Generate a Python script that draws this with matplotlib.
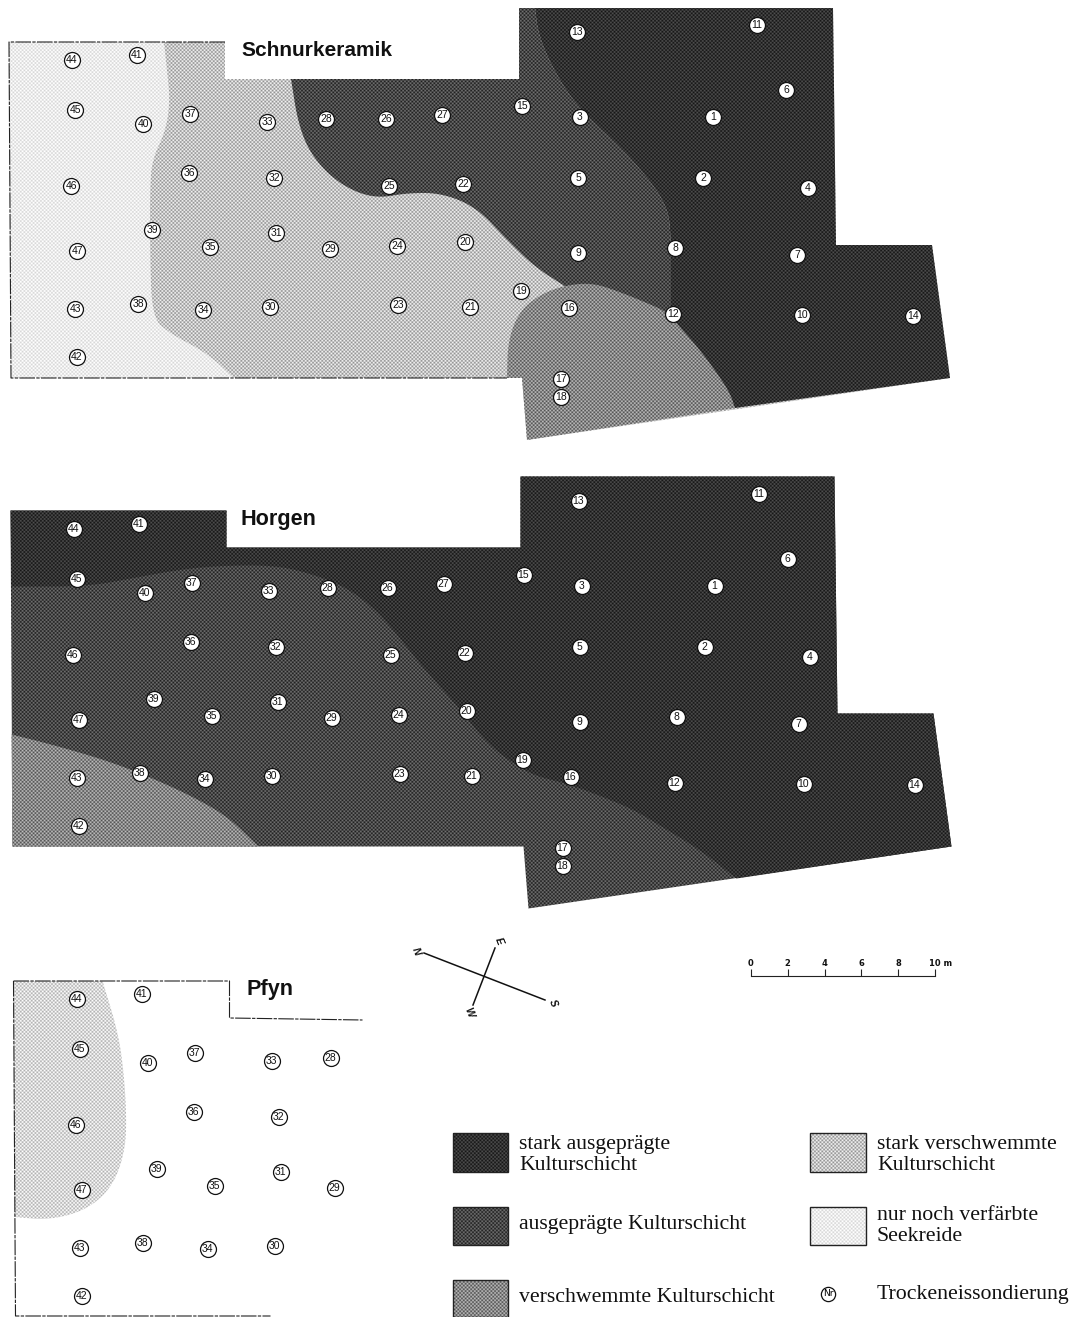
import numpy as np
import matplotlib
matplotlib.use("Agg")
import matplotlib.pyplot as plt
from matplotlib.patches import Polygon

W, H = 1075, 1317

# sondes, read in the Schnurkeramik panel (pixels of the page)
sonde_ids = list(range(1, 48))
sonde_x = [713, 703, 580, 808, 578, 786, 797, 675, 578, 802, 757, 673, 577, 913, 522, 569,
           561, 561, 521, 465, 470, 463, 398, 397, 389, 386, 442, 326, 330, 270, 276, 274,
           267, 203, 210, 189, 190, 138, 152, 143, 137, 77, 75, 72, 75, 71, 77]
sonde_y = [117, 178, 117, 188, 178, 90, 255, 248, 253, 315, 25, 314, 32, 316, 106, 308,
           379, 397, 291, 242, 307, 184, 305, 246, 186, 119, 115, 119, 249, 307, 233, 178,
           122, 310, 247, 173, 114, 304, 230, 124, 55, 357, 309, 60, 110, 186, 251]
pfyn_ids = [28, 29, 30, 31, 32, 33, 34, 35, 36, 37, 38, 39, 40, 41, 42, 43, 44, 45, 46, 47]

# site outline
site = [(9, 42), (225, 42), (225, 79), (519, 79), (519, 8), (833, 8), (836, 245), (932, 245),
        (950, 378), (527, 440), (522, 378), (11, 378)]
pfyn_edge_top = [(9, 42), (225, 42), (225, 79), (358, 81)]
pfyn_edge_left = [(9, 42), (11, 377), (266, 377)]
schnur_edge = [(225, 42), (9, 42), (11, 378), (507, 378)]

# zone boundaries, Schnurkeramik
sk_light = [(164, 42), (167, 70), (170, 100), (166, 130), (152, 160), (150, 190), (150, 250),
            (152, 317), (169, 333), (207, 353), (234, 378)]
sk_mid = [(291, 79), (298, 123), (310, 153), (331, 177), (355, 192), (379, 198), (407, 193),
          (441, 193), (476, 207), (507, 240), (535, 267), (563, 285)]
sk_dark_edge = [(535, 8), (538, 33), (550, 63), (570, 97), (593, 122), (620, 147), (647, 177),
                (665, 203), (671, 227), (671, 307)]
sk_washed = [(507, 378), (508, 340), (520, 310), (543, 293), (567, 285), (593, 283), (620, 292),
             (647, 303), (667, 312), (680, 327), (700, 350), (717, 373), (730, 393), (735, 408)]

# zone boundaries, Horgen
ho_dark = [(10, 118), (85, 118), (130, 110), (178, 101), (223, 97), (274, 97), (309, 105),
           (343, 118), (371, 138), (395, 165), (423, 201), (454, 235), (488, 278), (528, 306),
           (565, 315), (598, 327), (632, 341), (665, 361), (698, 381), (735, 410)]
ho_washed = [(10, 266), (50, 276), (102, 291), (147, 308), (191, 328), (226, 348), (257, 378)]

# zone boundary, Pfyn
pf_light = [(98, 42), (112, 88), (118, 121), (122, 171), (121, 211), (108, 248), (82, 271),
            (45, 281), (10, 278)]

# grey levels of the legend classes
grey_strong = (50, 30)
grey_marked = (72, 42)
grey_washed = (135, 55)
grey_heavy = (195, 50)
grey_stain = (235, 22)
grey_pfyn = (215, 40)

legend_left = [("stark ausgeprägte\nKulturschicht", grey_strong, 1133, 1172, 1155),
               ("ausgeprägte Kulturschicht", grey_marked, 1207, 1245, 1224),
               ("verschwemmte Kulturschicht", grey_washed, 1280, 1317, 1297)]
legend_right = [("stark verschwemmte\nKulturschicht", grey_heavy, 1133, 1172, 1155),
                ("nur noch verfärbte\nSeekreide", grey_stain, 1207, 1245, 1226)]
scale_m = [0, 2, 4, 6, 8, 10]


def smooth(pts, n=3):
    # corner cutting, the ends stay where they are
    pts = np.array(pts, float)
    for _ in range(n):
        q = 0.75 * pts[:-1] + 0.25 * pts[1:]
        r = 0.25 * pts[:-1] + 0.75 * pts[1:]
        mid = np.empty((len(q) * 2, 2))
        mid[0::2] = q
        mid[1::2] = r
        pts = np.vstack([pts[0], mid, pts[-1]])
    return [tuple(p) for p in pts]


yy, xx = np.mgrid[0:H, 0:W]
period = 2.6 * np.sqrt(2)


def fill(ax, pts, grey, dx=0, dy=0):
    # halftone screen clipped to the zone
    level, amp = grey
    screen = level + amp * 0.5 * (np.cos(2 * np.pi * (xx + yy) / period) + np.cos(2 * np.pi * (xx - yy) / period))
    im = ax.imshow(screen, cmap="gray", vmin=0, vmax=255, extent=(0, W, H, 0),
                   interpolation="nearest", aspect="auto", zorder=1)
    clip = Polygon([(x + dx, y + dy) for x, y in pts], transform=ax.transData)
    im.set_clip_path(clip)


def edge(ax, pts, dx, dy):
    ax.plot([p[0] + dx for p in pts], [p[1] + dy for p in pts], color="#222222", lw=0.8,
            ls=(0, (14, 1.2, 3, 1.2)), zorder=2)


def sondes(ax, ids, dx, dy):
    xs = [sonde_x[i - 1] + dx for i in ids]
    ys = [sonde_y[i - 1] + dy for i in ids]
    ax.scatter(xs, ys, s=132, facecolor="white", edgecolor="#111111", linewidth=0.9, zorder=3)
    for i, x, y in zip(ids, xs, ys):
        ax.text(x, y + 0.3, str(i), ha="center", va="center", fontsize=7.5,
                family="Liberation Sans", color="#111111", zorder=4)


fig = plt.figure(figsize=(W / 100, H / 100), dpi=100)
ax = fig.add_axes([0, 0, 1, 1])

# Schnurkeramik
fill(ax, site, grey_heavy)
fill(ax, smooth(sk_light) + [(11, 378), (9, 42)], grey_stain)
fill(ax, smooth(sk_mid) + [(600, 320), (671, 325)] + smooth(sk_dark_edge)[::-1] + [(519, 8), (519, 79)], grey_marked)
fill(ax, smooth(sk_dark_edge) + [(671, 325), (735, 408), (950, 378), (932, 245), (836, 245), (833, 8)], grey_strong)
fill(ax, smooth(sk_washed) + [(527, 440), (522, 378)], grey_washed)
edge(ax, schnur_edge, 0, 0)
sondes(ax, sonde_ids, 0, 0)
ax.text(241, 50, "Schnurkeramik", fontsize=15, fontweight="bold", family="Liberation Sans",
        ha="left", va="center", color="#111111")

# Horgen
hx, hy = 1.5, 468.5
fill(ax, site, grey_marked, hx, hy)
fill(ax, smooth(ho_dark) + [(950, 378), (932, 245), (836, 245), (833, 8), (519, 8), (519, 79),
                            (225, 79), (225, 42), (9, 42)], grey_strong, hx, hy)
fill(ax, smooth(ho_washed) + [(11, 378)], grey_washed, hx, hy)
sondes(ax, sonde_ids, hx, hy)
ax.text(241, 519, "Horgen", fontsize=15.6, fontweight="bold", family="Liberation Sans",
        ha="left", va="center", color="#111111")

# Pfyn
px, py = 4.5, 939
fill(ax, smooth(pf_light) + [(9, 42)], grey_pfyn, px, py)
edge(ax, pfyn_edge_top, px, py)
edge(ax, pfyn_edge_left, px, py)
sondes(ax, pfyn_ids, px, py)
ax.text(247, 990, "Pfyn", fontsize=15.6, fontweight="bold", family="Liberation Sans",
        ha="left", va="center", color="#111111")

# compass
ax.plot([424, 545], [953, 1000], color="#111111", lw=1.1, zorder=2)
ax.plot([495, 473], [948, 1005], color="#111111", lw=1.1, zorder=2)
for label, x, y in [("N", 416, 951), ("E", 499, 941), ("S", 553, 1003), ("W", 469, 1012)]:
    ax.text(x, y, label, fontsize=7.5, fontweight="bold", family="Liberation Sans", style="italic",
            rotation=-68, ha="center", va="center", color="#111111")

# scale bar
bar_x = [751 + 18.4 * m for m in scale_m]
ax.plot([bar_x[0], bar_x[-1]], [976, 976], color="#222222", lw=0.8)
ax.vlines(bar_x, 969, 976, color="#222222", lw=0.8)
for m, x in zip(scale_m, bar_x):
    if m == 10:
        ax.text(x - 6, 963, "10 m", fontsize=6, family="Liberation Sans Narrow", fontweight="bold",
                ha="left", va="center", color="#111111")
    else:
        ax.text(x, 963, str(m), fontsize=6, family="Liberation Sans Narrow", fontweight="bold",
                ha="center", va="center", color="#111111")

# legend
for entries, x0, x1, tx in [(legend_left, 453, 508, 519), (legend_right, 810, 866, 877)]:
    for label, grey, y0, y1, ty in entries:
        box = [(x0, y0), (x1, y0), (x1, y1), (x0, y1)]
        fill(ax, box, grey)
        ax.add_patch(Polygon(box, closed=True, fill=False, edgecolor="#222222", lw=1.0, zorder=2))
        ax.text(tx, ty, label, fontsize=15.7, family="Liberation Serif", ha="left", va="center",
                linespacing=1.08, color="#111111")
ax.scatter([828], [1294], s=105, facecolor="white", edgecolor="#111111", linewidth=0.9, zorder=3)
ax.text(828, 1294, "Nr", fontsize=6.5, family="Liberation Sans Narrow", ha="center", va="center", zorder=4)
ax.text(877, 1295, "Trockeneissondierung", fontsize=15.7, family="Liberation Serif", ha="left", va="center",
        color="#111111")

ax.set_xlim(0, W)
ax.set_ylim(H, 0)
ax.axis("off")
fig.savefig("out.png", dpi=100, facecolor="white")
